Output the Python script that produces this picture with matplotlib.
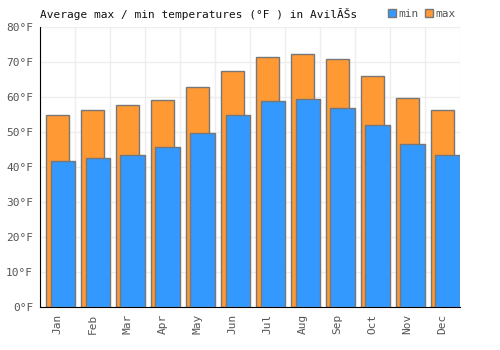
import matplotlib
matplotlib.use("Agg")
import matplotlib.pyplot as plt
import numpy as np

months = ["Jan", "Feb", "Mar", "Apr", "May", "Jun",
          "Jul", "Aug", "Sep", "Oct", "Nov", "Dec"]
temp_max = [54.8, 56.2, 57.6, 59.0, 62.8, 67.3, 71.3, 72.2, 70.8, 65.9, 59.6, 56.2]
temp_min = [41.6, 42.5, 43.3, 45.6, 49.6, 54.8, 58.8, 59.3, 56.8, 51.9, 46.5, 43.3]
y_ticks = [0, 10, 20, 30, 40, 50, 60, 70, 80]

plt.rcParams['font.family'] = ['DejaVu Sans Mono', 'DejaVu Sans']

fig = plt.figure(figsize=(5, 3.5), dpi=100)
ax = fig.add_axes([0.08, 0.1229, 0.84, 0.80])

x = np.arange(len(months))
ax.bar(x, temp_max, width=0.66, color="#ff9933", edgecolor="#777777",
       linewidth=1, label="max", zorder=2)
ax.bar(x + 0.15, temp_min, width=0.70, color="#3399ff", edgecolor="#777777",
       linewidth=1, label="min", zorder=3)

ax.set_xlim(-0.5, len(months) - 0.5)
ax.set_ylim(0, 80)
ax.set_yticks(y_ticks)
ax.set_yticklabels(["{}°F".format(v) for v in y_ticks])
ax.set_xticks(x)
ax.set_xticklabels(months, rotation=90)
ax.set_xticks(np.arange(len(months) + 1) - 0.5, minor=True)

ax.grid(axis="y", color="#eeeeee", linewidth=1, zorder=0)
ax.grid(axis="x", which="minor", color="#eeeeee", linewidth=1, zorder=0)
ax.tick_params(axis="both", which="both", length=0, labelsize=8, colors="#555555")
ax.tick_params(axis="y", pad=5)
ax.tick_params(axis="x", pad=5)

for side in ["top", "right"]:
    ax.spines[side].set_visible(False)
ax.spines["left"].set_color("black")
ax.spines["bottom"].set_color("black")

fig.text(0.08, 0.96, "Average max / min temperatures (°F ) in AvilĂŠs",
         fontsize=8, ha="left", va="center", color="#111111")

handles, labels = ax.get_legend_handles_labels()
leg = ax.legend(handles[::-1], labels[::-1], loc="center right",
                bbox_to_anchor=(1.0, 1.046), ncol=2, frameon=False,
                fontsize=8, handlelength=0.7, handleheight=0.7,
                handletextpad=0.2, columnspacing=0.6, borderaxespad=0)
for t in leg.get_texts():
    t.set_color("#555555")

fig.savefig("out.png", dpi=100)
